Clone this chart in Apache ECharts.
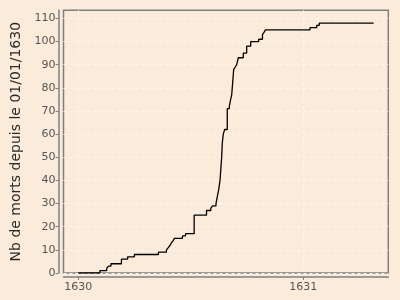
<!DOCTYPE html>
<html>
<head>
<meta charset="utf-8">
<script src="https://cdn.jsdelivr.net/npm/echarts@6/dist/echarts.min.js"></script>
<style>
html,body{margin:0;padding:0;background:#FBEBDA;}
#chart{width:400px;height:300px;}
</style>
</head>
<body>
<div id="chart"></div>
<script>
// days since 1630-01-01 and cumulative deaths
var days = [0, 35, 46, 49, 53, 70, 80, 91, 130, 143, 146, 149, 151, 154, 156, 169, 174, 188,
  208, 215, 218, 223.4, 225.5, 227.8, 229.9, 231, 232.6, 233.6, 235.2, 237.5, 241.7, 245, 247.2,
  248.9, 249.8, 251, 252.1, 254.7, 257, 259.6, 267.7, 273.2, 279.7, 292.7, 298.8, 301.3, 303.7,
  375.9, 386.8, 391, 479.2];
var deaths = [0, 1, 2, 3, 4, 6, 7, 8, 9, 10, 11, 12, 13, 14, 15, 16, 17, 25,
  27, 28, 29, 30, 33, 36, 40, 44, 50, 56, 60, 62, 71, 72, 75,
  77, 80, 84, 88, 89, 90, 93, 95, 98, 100, 101, 103, 104, 105,
  106, 107, 108, 108];
var yearTicks = [1630, 1631];
var yTickValues = [0, 10, 20, 30, 40, 50, 60, 70, 80, 90, 100, 110];
var yTitle = 'Nb de morts depuis le 01/01/1630';

var seriesData = days.map(function (d, i) { return [1630 + d / 365, deaths[i]]; });

var chart = echarts.init(document.getElementById('chart'), null, {renderer: 'canvas'});
var grey = '#7f7f7f';
var font = 'DejaVu Sans';
chart.setOption({
  backgroundColor: '#FBEBDA',
  animation: false,
  grid: {left: 63.5, right: 11.7, top: 10.3, bottom: 27, show: true,
    borderColor: grey, borderWidth: 1.5, backgroundColor: 'transparent'},
  xAxis: {
    type: 'value', min: 1629.9342, max: 1631.378,
    offset: 4,
    axisLine: {show: true, onZero: false, lineStyle: {color: grey, width: 1.5}},
    axisTick: {show: true, length: 3, customValues: yearTicks, lineStyle: {color: grey, width: 1}},
    axisLabel: {customValues: yearTicks, color: '#555', fontFamily: font, fontSize: 11, margin: 5,
      formatter: function (v) { return String(Math.round(v)); }},
    splitLine: {show: true, customValues: yearTicks, lineStyle: {color: '#FFF7EE', type: [3, 3], width: 1}}
  },
  yAxis: {
    type: 'value', min: 0, max: 113.5,
    offset: 5,
    name: yTitle, nameLocation: 'middle', nameGap: 30,
    nameTextStyle: {color: '#2a2a2a', fontFamily: font, fontSize: 14},
    axisLine: {show: true, lineStyle: {color: grey, width: 1.5}},
    axisTick: {show: true, length: 3, customValues: yTickValues, lineStyle: {color: grey, width: 1}},
    axisLabel: {customValues: yTickValues, color: '#555', fontFamily: font, fontSize: 11, margin: 3},
    splitLine: {show: true, customValues: yTickValues, lineStyle: {color: '#FFF7EE', type: [3, 3], width: 1}}
  },
  series: [{
    type: 'line', step: 'end', data: seriesData, showSymbol: false,
    lineStyle: {color: '#000', width: 1.3}, z: 5
  }]
});
</script>
</body>
</html>
